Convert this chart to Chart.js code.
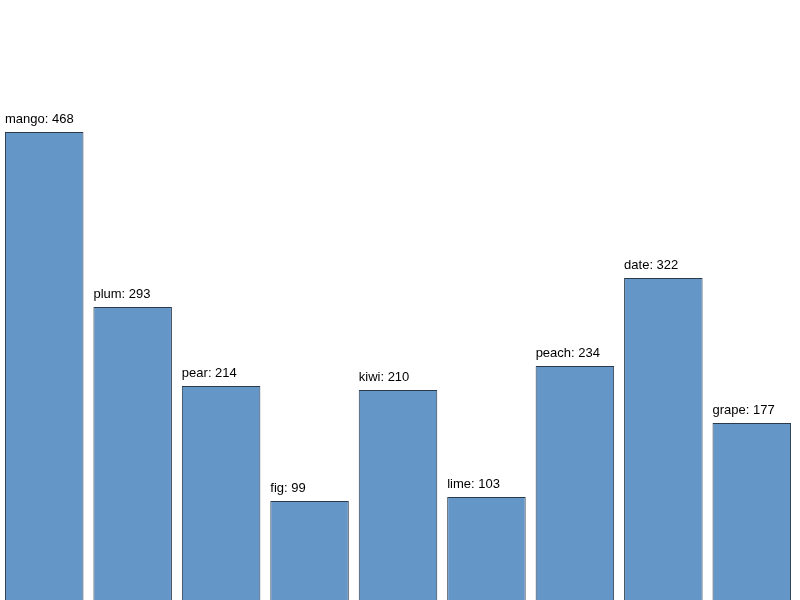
<!DOCTYPE html>
<html><head><meta charset="utf-8">
<script src="https://cdn.jsdelivr.net/npm/chart.js@4"></script>
<style>html,body{margin:0;padding:0;background:#fff}#w{width:800px;height:600px}</style>
</head><body><div id="w"><canvas id="c"></canvas></div>
<script>
const categories = ["mango","plum","pear","fig","kiwi","lime","peach","date","grape"];
const values = [468,293,214,99,210,103,234,322,177];

const labelPlugin = {
  id: 'lbl',
  afterDatasetsDraw(chart) {
    const ctx = chart.ctx;
    const meta = chart.getDatasetMeta(0);
    ctx.save();
    ctx.font = '13px "Liberation Sans", Arial, sans-serif';
    ctx.fillStyle = '#000';
    ctx.textAlign = 'left';
    ctx.textBaseline = 'alphabetic';
    meta.data.forEach((bar, i) => {
      const left = bar.x - bar.width / 2;
      ctx.fillText(categories[i] + ': ' + values[i], left, bar.y - 9);
    });
    ctx.restore();
  }
};

new Chart(document.getElementById('c'), {
  type: 'bar',
  data: { labels: categories, datasets: [{
    data: values,
    backgroundColor: '#6596c8',
    borderColor: '#2b3a4a',
    borderWidth: 1,
    categoryPercentage: 79/89,
    barPercentage: 1
  }]},
  options: {
    responsive: true, maintainAspectRatio: false, animation: false,
    layout: { padding: { left: -5, right: 4, top: 0, bottom: 0 } },
    plugins: { legend: { display: false }, tooltip: { enabled: false } },
    scales: {
      x: { display: false },
      y: { display: false, min: 0, max: 600 }
    }
  },
  plugins: [labelPlugin]
});
</script></body></html>
